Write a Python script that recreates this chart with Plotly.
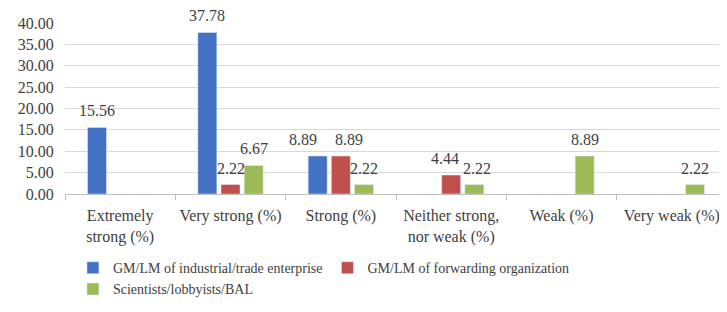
import plotly.graph_objects as go

categories = ["Extremely<br>strong (%)", "Very strong (%)", "Strong (%)",
              "Neither strong,<br>nor weak (%)", "Weak (%)", "Very weak (%)"]
series_names = ["GM/LM of industrial/trade enterprise",
                "GM/LM of forwarding organization",
                "Scientists/lobbyists/BAL"]
industrial = [15.56, 37.78, 8.89, 0, 0, 0]
forwarding = [0, 2.22, 8.89, 4.44, 0, 0]
scientists = [0, 6.67, 2.22, 2.22, 8.89, 2.22]
colors = ["#4472C4", "#C0504D", "#9BBB59"]
y_ticks = [0, 5, 10, 15, 20, 25, 30, 35, 40]

FONT = "Times New Roman, Liberation Serif, serif"
TXT = "#404040"

# the page body has an 8px default margin, so the figure is 8px smaller
W, H = 719, 304
ML, MR, MT, MB = 57, 0, 15, 118
BARGAP, BARGROUPGAP = 0.37, 0.18

# label nudges (px) to keep neighbouring labels apart, like the original
nudge = {(0, 2): -15, (1, 2): 8, (1, 3): -6, (2, 3): 3}

fig = go.Figure()
all_series = [industrial, forwarding, scientists]
for name, vals, col in zip(series_names, all_series, colors):
    fig.add_trace(go.Bar(
        x=categories, y=vals, name=name, marker_color=col,
    ))

cat_px = (W - ML - MR) / len(categories)
slot = cat_px * (1 - BARGAP) / len(all_series)
for i, vals in enumerate(all_series):
    for j, v in enumerate(vals):
        if not v:
            continue
        fig.add_annotation(
            x=categories[j], y=v, text=f"{v:.2f}", showarrow=False,
            xanchor="center", yanchor="bottom",
            xshift=(i - 1) * slot + nudge.get((i, j), 0), yshift=6,
            font=dict(family=FONT, size=16, color=TXT),
        )

fig.update_layout(
    width=W, height=H,
    margin=dict(l=ML, r=MR, t=MT, b=MB, autoexpand=False),
    paper_bgcolor="white", plot_bgcolor="white",
    barmode="group", bargap=BARGAP, bargroupgap=BARGROUPGAP,
    font=dict(family=FONT, size=16, color=TXT),
    showlegend=True,
    legend=dict(orientation="h", x=0.012, y=-0.34, xanchor="left", yanchor="top",
                font=dict(family=FONT, size=14, color=TXT),
                itemwidth=30, tracegroupgap=0, bgcolor="rgba(0,0,0,0)"),
    xaxis=dict(showline=True, linecolor="#BFBFBF", linewidth=1, automargin=False,
               ticks="outside", tickson="boundaries", ticklen=5, tickcolor="#BFBFBF",
               ticklabelstandoff=7, tickangle=0,
               tickfont=dict(family=FONT, size=16, color=TXT), showgrid=False),
    yaxis=dict(range=[0, 40], tickvals=y_ticks, tickformat=".2f", automargin=False,
               showgrid=True, gridcolor="#D9D9D9", gridwidth=1,
               zeroline=False, showline=False,
               ticks="outside", ticklen=7, tickcolor="rgba(0,0,0,0)",
               tickfont=dict(family=FONT, size=16, color=TXT)),
)

fig.write_html("out.html")
